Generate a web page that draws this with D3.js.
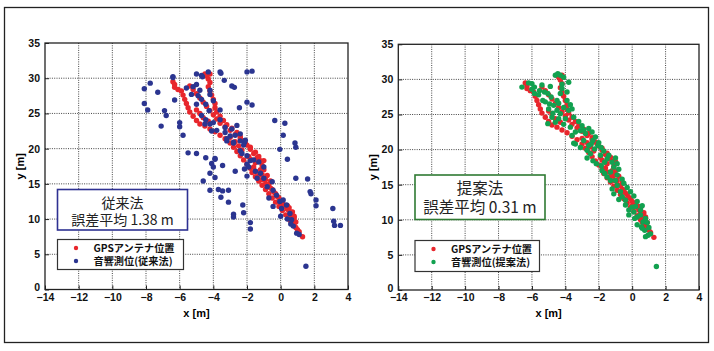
<!DOCTYPE html>
<html>
<head>
<meta charset="utf-8">
<script src="https://cdn.jsdelivr.net/npm/d3@7"></script>
<style>
body { margin: 0; background: #fff; }
svg { display: block; }
.tick text { font-family: "Liberation Sans", Arial, sans-serif; font-weight: bold; font-size: 10.5px; fill: #111; }
</style>
</head>
<body>
<script>
const WIDTH = 714;
const HEIGHT = 351;

const xTicks = [-14, -12, -10, -8, -6, -4, -2, 0, 2, 4];
const yTicks = [0, 5, 10, 15, 20, 25, 30, 35];

// GPS antenna position (same in both panels)
const gpsPoints = [
  [-6.4,29.5],[-6.3,29.1],[-6.3,28.7],[-6.1,28.4],[-5.9,28.2],[-5.8,27.6],[-5.7,27.0],[-5.6,26.4],[-5.5,25.8],[-5.4,25.2],
  [-5.2,24.6],[-5.0,24.0],[-4.8,23.5],[-4.5,23.2],[-4.2,22.8],[-3.9,22.4],[-3.6,21.9],[-3.3,21.4],[-3.0,20.8],[-2.8,20.2],
  [-2.6,19.6],[-2.4,19.0],[-2.2,18.4],[-2.0,17.8],[-1.8,17.2],[-1.7,16.6],[-1.5,16.0],[-1.3,15.4],[-1.1,14.8],[-0.9,14.2],
  [-0.7,13.6],[-0.5,13.0],[-0.3,12.4],[-0.1,11.8],[0.1,11.2],[0.3,10.6],[0.5,10.0],[0.7,9.4],[0.9,8.8],[1.1,8.2],[1.3,7.5],
  [-5.4,28.9],[-5.2,28.4],[-5.0,27.8],[-4.8,27.2],[-4.6,26.6],[-4.4,26.0],[-4.2,25.4],[-4.0,24.8],[-3.8,24.2],[-3.6,23.6],
  [-3.3,23.1],[-3.0,22.6],[-2.7,22.0],[-2.4,21.4],[-2.1,20.8],[-1.8,20.2],[-1.5,19.5],[-1.3,18.9],[-1.2,18.3],[-1.1,17.6],
  [-1.2,17.0],[-1.1,16.3],[-0.9,15.6],[-0.7,14.9],[-0.5,14.2],[-0.3,13.6],[-0.1,13.0],[0.1,12.4],[0.3,11.8],[0.5,11.2],
  [0.6,10.5],[0.7,9.8],[0.8,9.1],[1.0,8.5],
  [-4.5,30.6],[-4.4,30.3],[-4.2,30.6],[-4.3,29.9],[-4.2,29.4],[-4.3,28.8],[-4.2,28.2],[-4.1,27.6],[-4.0,27.0],[-3.9,26.4],
  [-3.9,25.8],[-3.8,25.2],[-3.6,24.6],[-3.4,24.0],[-3.2,23.4],[-2.9,22.9],[-2.6,22.3],[-2.4,21.7],[-2.2,21.1],[-2.0,20.5],
  [-1.8,19.9],[-1.6,19.3],[-1.4,18.7],[-1.5,18.0],[-1.6,17.4],[-1.5,16.8],[-1.3,16.2],[-1.1,15.6],[-0.9,15.0],[-0.6,14.4],
  [-0.4,13.8],[-0.2,13.2],[0.0,12.6],[0.2,12.0],[0.4,11.4],[0.6,10.8],[0.8,10.2],[0.9,9.6],
  [-5.0,25.5],[-4.8,25.0],[-4.6,24.4],[-4.3,23.9],[-3.0,21.6],[-2.7,21.0],[-2.5,20.4],[-2.3,19.8],[-1.9,18.9],[-1.8,18.5],
  [-1.0,18.3],[-1.0,17.0],[-0.8,16.2],[-0.6,15.4],[0.0,12.0],[0.4,11.9],[0.5,11.6],[0.7,11.0],[0.8,10.4],[0.6,9.7]
];

// acoustic positioning, conventional method
const conventionalPoints = [
  [-8.1,28.5],[-7.75,29.3],[-8.1,26.4],[-7.9,25.5],[-7.3,28.0],[-6.9,25.4],[-6.8,24.7],[-7.1,23.2],[-6.4,30.1],[-6.3,26.9],
  [-6.0,23.7],[-6.0,23.1],[-5.8,21.9],[-5.5,19.4],[-5.0,30.6],[-4.7,30.4],[-4.3,30.9],[-3.6,30.9],[-3.55,30.7],[-3.35,29.7],
  [-2.9,28.9],[-2.75,28.7],[-2.0,30.9],[-1.7,31.0],[-2.0,26.6],[-1.7,26.2],[-2.45,25.8],[-0.35,24.0],[0.25,23.6],[0.15,21.9],
  [-0.05,19.9],[0.85,20.8],[0.9,20.2],[0.4,18.5],[0.9,15.8],[1.6,15.7],[1.75,13.9],[1.8,13.6],[2.1,12.7],[2.1,11.9],
  [3.1,11.5],[3.15,9.7],[3.2,9.1],[3.55,9.1],[1.5,3.3],[-4.45,18.7],[-4.1,17.9],[-4.2,16.5],[-4.6,15.4],[-3.9,15.9],
  [-3.45,17.6],[-2.7,16.8],[-4.2,14.1],[-3.7,14.2],[-3.45,14.0],[-3.1,14.1],[-3.55,13.1],[-3.1,12.4],[-2.25,12.0],[-2.2,10.9],
  [-2.8,10.7],[-2.8,10.3],[-1.8,9.5],[-1.8,8.6],[-2.0,16.1],[-3.9,18.6],
  [-6.4,30.2],[-5.2,28.8],[-5.0,29.1],[-4.8,28.3],[-5.3,27.7],[-4.9,27.5],[-4.7,27.0],[-4.65,30.2],[-4.2,28.3],[-4.2,27.7],
  [-4.25,25.4],[-4.45,26.3],[-5.0,26.3],[-4.7,24.7],[-4.45,24.1],[-4.0,23.7],[-4.2,23.5],[-4.1,22.5],[-3.6,24.1],[-3.3,23.0],
  [-2.9,22.8],[-2.6,23.3],[-3.0,21.8],[-3.2,21.1],[-2.8,20.8],[-2.4,21.1],[-2.15,20.9],[-2.4,19.7],[-2.0,19.0],[-1.8,18.3],
  [-2.0,17.8],[-2.15,17.1],[-5.0,19.3],[-3.9,18.5],[-4.0,17.4],[-4.5,23.5],[-3.8,22.6],[-3.3,22.3],[-3.2,21.4],[-2.7,21.9],
  [-2.4,22.1],[-2.8,20.9],[-2.2,20.5],[-2.1,21.2],[-2.3,19.3],[-1.6,18.4],[-1.3,18.1],[-1.0,17.4],[-1.2,16.5],[-1.4,15.8],
  [-1.0,15.8],[-0.8,14.6],[-0.5,15.3],[-0.45,14.1],[-0.25,13.4],[-0.05,12.5],[0.05,11.5],[0.15,12.7],[0.35,12.0],[0.55,10.8],
  [0.65,9.9],[0.75,9.0],[0.95,8.0],[1.1,7.8],[0.0,10.4],[-0.45,11.8],[-1.9,17.4],[0.4,10.0],[0.6,9.3],[-0.7,13.0],
  [-1.5,16.8],[-3.6,25.5],[-5.6,28.6],[-4.0,26.8]
];

// acoustic positioning, proposed method
const proposedPoints = [
  [-4.6,30.6],[-4.45,30.8],[-4.3,30.6],[-4.1,30.3],[-3.8,29.6],[-6.6,28.9],[-6.0,29.4],[-5.85,28.9],[-5.85,28.0],[-5.55,28.4],
  [-5.25,28.2],[-5.05,28.0],[-5.35,27.0],[-4.85,27.5],[-4.95,26.5],[-4.7,26.3],[-4.5,27.0],[-4.3,28.0],[-4.2,28.7],[-4.5,25.6],
  [-4.8,24.6],[-5.05,23.7],[-4.6,23.9],[-4.3,25.1],[-4.0,24.4],[-3.8,25.6],[-3.6,25.8],[-3.7,23.2],[-3.4,22.5],[-3.1,22.7],
  [-2.8,22.3],[-2.6,23.0],[-2.9,21.3],[-3.5,20.9],[-2.6,20.6],[-2.35,21.3],[-2.05,20.6],
  [-3.6,22.0],[-3.4,20.8],[-3.1,20.3],[-2.7,19.9],[-2.45,20.8],[-2.25,20.1],[-1.86,20.3],[-2.35,18.4],[-2.15,18.0],[-1.85,17.7],
  [-1.65,18.2],[-1.5,18.7],[-1.2,18.2],[-1.1,17.5],[-1.3,16.8],[-1.65,16.6],[-1.5,16.1],[-1.3,15.6],[-1.0,15.6],[-0.9,14.9],
  [-1.2,14.4],[-1.1,13.7],[-0.7,14.0],[-0.6,13.3],[-0.4,12.8],[-0.4,12.1],[-0.2,11.4],[0.1,11.1],[0.0,11.8],[0.3,10.4],
  [0.5,10.7],[0.65,9.7],[0.55,9.0],[0.75,8.5],[0.95,7.8],[1.45,3.35],[0.15,10.2],[-0.2,10.7],
  [-6.2,29.5],[-5.6,27.8],[-5.2,26.8],[-5.0,25.8],[-4.75,25.2],[-4.4,24.4],[-4.1,23.6],[-4.4,26.6],[-4.1,26.0],[-3.9,27.0],
  [-3.7,26.4],[-3.5,24.6],[-3.2,24.0],[-3.0,23.4],[-2.9,22.8],[-2.2,21.8],[-2.0,21.0],[-1.7,19.8],[-1.9,19.2],[-2.5,19.4],
  [-1.4,19.2],[-1.0,18.8],[-0.9,18.0],[-0.8,17.2],[-1.8,17.0],[-0.9,16.4],[-0.6,15.8],[-0.5,15.2],[-0.3,14.6],[-0.1,14.0],
  [0.1,13.4],[-0.8,12.9],[0.3,12.6],[0.2,11.9],[0.5,11.4],[0.6,12.0],[0.8,10.2],[0.9,9.6],[0.3,9.3],[0.6,8.8],
  [1.0,8.9],[0.8,7.6],[1.1,8.0],[-2.7,18.8],[-2.4,22.5],[-4.9,29.0],[-5.4,29.2],[-6.0,28.6],[-4.2,29.3],[-3.9,28.2]
];

const gpsLabel = 'GPSアンテナ位置';
const methodNames = ['従来法', '提案法'];
const errorLabels = ['誤差平均 1.38 m', '誤差平均 0.31 m'];
const measureLabels = ['音響測位(従来法)', '音響測位(提案法)'];

const RED = '#e8262c';
const panels = [
  { left: 45, right: 348, top: 43, bottom: 289.5, pts: conventionalPoints, color: '#2b3590', boxColor: '#2e3192',
    box: [57.5, 189.5, 130, 40.5], boxFont: 14, boxLines: [203, 220.5], legend: [57.5, 239.5, 126, 30] },
  { left: 398.3, right: 699, top: 44.3, bottom: 290, pts: proposedPoints, color: '#12a150', boxColor: '#2f7a33',
    box: [415, 175, 130, 44.5], boxFont: 15.5, boxLines: [188.5, 208], legend: [415, 240.5, 124.5, 31] }
];

const svg = d3.select('body').append('svg')
  .attr('width', WIDTH)
  .attr('height', HEIGHT);

svg.append('rect').attr('width', WIDTH).attr('height', HEIGHT).attr('fill', '#fff');
svg.append('rect')
  .attr('x', 4.5).attr('y', 7.5).attr('width', 704).attr('height', 335)
  .attr('fill', 'none').attr('stroke', '#222').attr('stroke-width', 1.3);

panels.forEach(function (p, i) {
  var xScale = d3.scaleLinear().domain([-14, 4]).range([p.left, p.right]);
  var yScale = d3.scaleLinear().domain([0, 35]).range([p.bottom, p.top]);
  var g = svg.append('g');

  // dotted grid
  g.selectAll('line.gx').data(xTicks.slice(1, -1)).enter().append('line')
    .attr('x1', function (d) { return xScale(d); }).attr('x2', function (d) { return xScale(d); })
    .attr('y1', p.top).attr('y2', p.bottom)
    .attr('stroke', '#444').attr('stroke-width', 1).attr('stroke-dasharray', '1,1.3');
  g.selectAll('line.gy').data(yTicks.slice(1, -1)).enter().append('line')
    .attr('x1', p.left).attr('x2', p.right)
    .attr('y1', function (d) { return yScale(d); }).attr('y2', function (d) { return yScale(d); })
    .attr('stroke', '#444').attr('stroke-width', 1).attr('stroke-dasharray', '1,1.3');

  var xAxis = d3.axisBottom(xScale).tickValues(xTicks).tickSize(-4).tickPadding(4);
  var yAxis = d3.axisLeft(yScale).tickValues(yTicks).tickSize(-4).tickPadding(5);
  g.append('g').attr('transform', 'translate(0,' + p.bottom + ')').call(xAxis)
    .call(function (a) { a.select('.domain').remove(); a.selectAll('line').attr('stroke', '#222'); });
  g.append('g').attr('transform', 'translate(' + p.left + ',0)').call(yAxis)
    .call(function (a) {
      a.select('.domain').remove();
      a.selectAll('line').attr('stroke', '#222');
      // the "0" sits just above the first x label, as in the original
      a.selectAll('.tick text').filter(function (d) { return d === 0; }).attr('dy', '0.1em');
    });

  g.append('rect')
    .attr('x', p.left).attr('y', p.top)
    .attr('width', p.right - p.left).attr('height', p.bottom - p.top)
    .attr('fill', 'none').attr('stroke', '#222').attr('stroke-width', 1.3);

  g.append('text')
    .attr('x', (p.left + p.right) / 2).attr('y', p.bottom + 27)
    .attr('text-anchor', 'middle')
    .attr('font-family', '"Liberation Sans", Arial, sans-serif').attr('font-weight', 'bold').attr('font-size', 11)
    .text('x [m]');
  g.append('text')
    .attr('transform', 'translate(' + (p.left - 21) + ',' + ((p.top + p.bottom) / 2) + ') rotate(-90)')
    .attr('text-anchor', 'middle')
    .attr('font-family', '"Liberation Sans", Arial, sans-serif').attr('font-weight', 'bold').attr('font-size', 11)
    .text('y [m]');

  // points
  g.selectAll('circle.gps').data(gpsPoints).enter().append('circle')
    .attr('cx', function (d) { return xScale(d[0]); })
    .attr('cy', function (d) { return yScale(d[1]); })
    .attr('r', 2.7).attr('fill', RED);
  g.selectAll('circle.meas').data(p.pts).enter().append('circle')
    .attr('cx', function (d) { return xScale(d[0]); })
    .attr('cy', function (d) { return yScale(d[1]); })
    .attr('r', 2.7).attr('fill', p.color);

  // annotation box: one text block, two lines
  g.append('rect')
    .attr('x', p.box[0]).attr('y', p.box[1]).attr('width', p.box[2]).attr('height', p.box[3])
    .attr('fill', '#fff').attr('stroke', p.boxColor).attr('stroke-width', 1.6);
  var boxText = g.append('text')
    .attr('text-anchor', 'middle')
    .attr('font-family', '"Noto Sans CJK JP", "Noto Sans", sans-serif').attr('font-size', p.boxFont)
    .attr('fill', '#222');
  [methodNames[i], errorLabels[i]].forEach(function (t, k) {
    boxText.append('tspan')
      .attr('x', p.box[0] + p.box[2] / 2).attr('y', p.boxLines[k])
      .attr('dy', '0.35em')
      .text(t);
  });

  // legend
  var lg = p.legend;
  g.append('rect')
    .attr('x', lg[0]).attr('y', lg[1]).attr('width', lg[2]).attr('height', lg[3])
    .attr('fill', '#fff').attr('stroke', '#333').attr('stroke-width', 1.2);
  var legText = g.append('text')
    .attr('font-family', '"Noto Sans CJK JP", sans-serif').attr('font-weight', 'bold').attr('font-size', 10.2)
    .attr('fill', '#111');
  [[gpsLabel, RED], [measureLabels[i], p.color]].forEach(function (e, k) {
    var cy = lg[1] + 8.5 + k * 13;
    g.append('circle').attr('cx', lg[0] + 18.5).attr('cy', cy).attr('r', 2.2).attr('fill', e[1]);
    legText.append('tspan')
      .attr('x', lg[0] + 36).attr('y', cy).attr('dy', '0.35em')
      .text(e[0]);
  });
});
</script>
</body>
</html>
